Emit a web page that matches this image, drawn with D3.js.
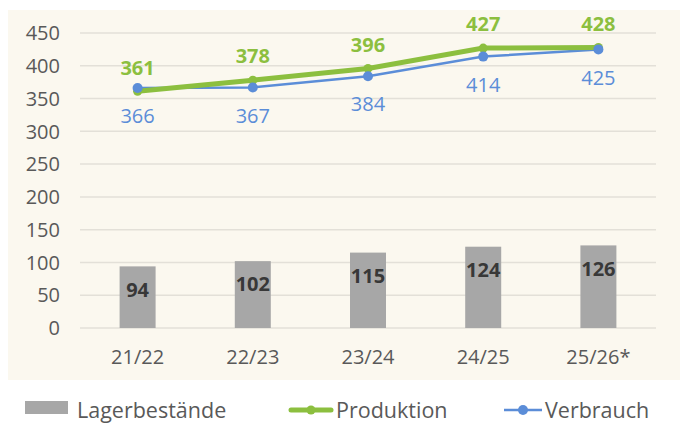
<!DOCTYPE html>
<html>
<head>
<meta charset="utf-8">
<script src="https://cdn.jsdelivr.net/npm/d3@7"></script>
<style>
  body { margin: 0; background: #fff; }
  svg text { font-family: "Open Sans", sans-serif; }
</style>
</head>
<body>
<div id="chart"></div>
<script>
const years = ['21/22', '22/23', '23/24', '24/25', '25/26*']
const lager = [94, 102, 115, 124, 126]
const produktion = [361, 378, 396, 427, 428]
const verbrauch = [366, 367, 384, 414, 425]
const yTicks = [0, 50, 100, 150, 200, 250, 300, 350, 400, 450]

const width = 680
const height = 423

const svg = d3.select('#chart')
	.append('svg')
	.attr('width', width)
	.attr('height', height)

// cream panel
svg.append('rect')
	.attr('x', 8)
	.attr('y', 10)
	.attr('width', 672)
	.attr('height', 370)
	.attr('fill', '#fbf8ef')

let xScale = d3.scaleBand()
	.domain(years)
	.range([80, 656])

let yScale = d3.scaleLinear()
	.domain([0, 450])
	.range([328, 33])

let cx = d => xScale(d) + xScale.bandwidth() / 2

// grid
svg.selectAll('.grid')
	.data(yTicks)
	.enter()
	.append('line')
	.attr('x1', 80)
	.attr('x2', 656)
	.attr('y1', d => yScale(d))
	.attr('y2', d => yScale(d))
	.attr('stroke', '#e3e0d8')
	.attr('stroke-width', 1.5)

svg.selectAll('.ytick')
	.data(yTicks)
	.enter()
	.append('text')
	.attr('x', 60)
	.attr('y', d => yScale(d))
	.attr('dy', '0.36em')
	.attr('text-anchor', 'end')
	.attr('font-size', 20)
	.attr('fill', '#595959')
	.text(d => d)

svg.selectAll('.xtick')
	.data(years)
	.enter()
	.append('text')
	.attr('x', d => cx(d))
	.attr('y', 357)
	.attr('dy', '0.36em')
	.attr('text-anchor', 'middle')
	.attr('font-size', 20)
	.attr('fill', '#595959')
	.text(d => d)

// bars
let barW = 36
svg.selectAll('.bar')
	.data(lager)
	.enter()
	.append('rect')
	.attr('x', (d, i) => cx(years[i]) - barW / 2)
	.attr('y', d => yScale(d))
	.attr('width', barW)
	.attr('height', d => yScale(0) - yScale(d))
	.attr('fill', '#a7a7a7')

svg.selectAll('.barlabel')
	.data(lager)
	.enter()
	.append('text')
	.attr('x', (d, i) => cx(years[i]))
	.attr('y', d => yScale(d) + 23)
	.attr('dy', '0.36em')
	.attr('text-anchor', 'middle')
	.attr('font-size', 20)
	.attr('font-weight', 'bold')
	.attr('fill', '#383838')
	.text(d => d)

let line = d3.line()
	.x((d, i) => cx(years[i]))
	.y(d => yScale(d))

// Verbrauch
svg.append('path')
	.datum(verbrauch)
	.attr('d', line)
	.attr('fill', 'none')
	.attr('stroke', '#5b8dd8')
	.attr('stroke-width', 2.5)

// Produktion
svg.append('path')
	.datum(produktion)
	.attr('d', line)
	.attr('fill', 'none')
	.attr('stroke', '#8cbf3f')
	.attr('stroke-width', 5)

svg.selectAll('.pdot')
	.data(produktion)
	.enter()
	.append('circle')
	.attr('cx', (d, i) => cx(years[i]))
	.attr('cy', d => yScale(d))
	.attr('r', 4.5)
	.attr('fill', '#8cbf3f')

svg.selectAll('.vdot')
	.data(verbrauch)
	.enter()
	.append('circle')
	.attr('cx', (d, i) => cx(years[i]))
	.attr('cy', d => yScale(d))
	.attr('r', 5)
	.attr('fill', '#5b8dd8')

svg.selectAll('.plabel')
	.data(produktion)
	.enter()
	.append('text')
	.attr('x', (d, i) => cx(years[i]))
	.attr('y', d => yScale(d) - 24)
	.attr('dy', '0.36em')
	.attr('text-anchor', 'middle')
	.attr('font-size', 20)
	.attr('font-weight', 'bold')
	.attr('fill', '#8cbf3f')
	.text(d => d)

svg.selectAll('.vlabel')
	.data(verbrauch)
	.enter()
	.append('text')
	.attr('x', (d, i) => cx(years[i]))
	.attr('y', d => yScale(d) + 28)
	.attr('dy', '0.36em')
	.attr('text-anchor', 'middle')
	.attr('font-size', 20)
	.attr('fill', '#5b8dd8')
	.text(d => d)

// legend
let legend = svg.append('g')

legend.append('rect')
	.attr('x', 25)
	.attr('y', 401)
	.attr('width', 43)
	.attr('height', 13)
	.attr('fill', '#a7a7a7')

legend.append('text')
	.attr('x', 77)
	.attr('y', 418)
	.attr('font-size', 21.5)
	.attr('fill', '#595959')
	.text('Lagerbestände')

legend.append('line')
	.attr('x1', 291).attr('x2', 331)
	.attr('y1', 410).attr('y2', 410)
	.attr('stroke', '#8cbf3f')
	.attr('stroke-width', 5)
	.attr('stroke-linecap', 'round')

legend.append('circle')
	.attr('cx', 311).attr('cy', 410).attr('r', 4.5)
	.attr('fill', '#8cbf3f')

legend.append('text')
	.attr('x', 336)
	.attr('y', 418)
	.attr('font-size', 21.5)
	.attr('fill', '#595959')
	.text('Produktion')

legend.append('line')
	.attr('x1', 504).attr('x2', 542)
	.attr('y1', 410).attr('y2', 410)
	.attr('stroke', '#5b8dd8')
	.attr('stroke-width', 2.5)

legend.append('circle')
	.attr('cx', 523).attr('cy', 410).attr('r', 5)
	.attr('fill', '#5b8dd8')

legend.append('text')
	.attr('x', 545)
	.attr('y', 418)
	.attr('font-size', 21.5)
	.attr('fill', '#595959')
	.text('Verbrauch')
</script>
</body>
</html>
